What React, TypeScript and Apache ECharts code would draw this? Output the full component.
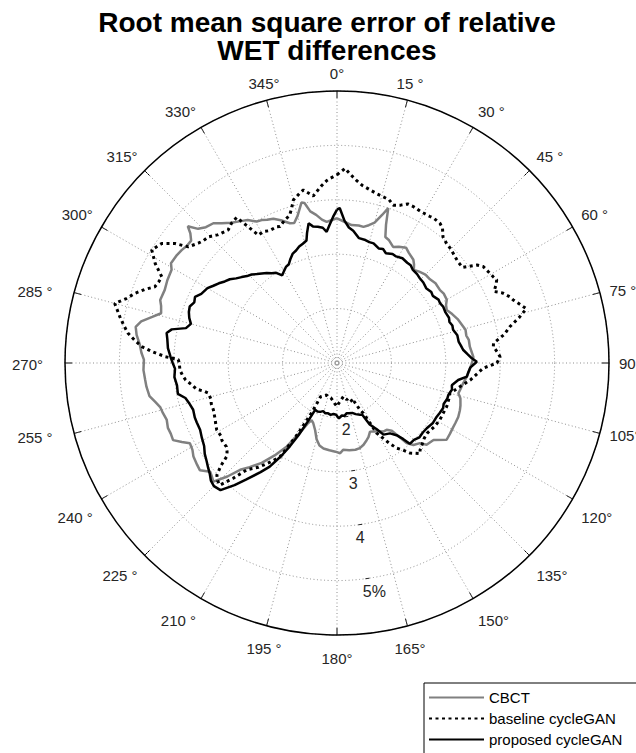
import React, { useEffect, useRef } from 'react';
import * as echarts from 'echarts';

const titleText = 'Root mean square error of relative\nWET differences';
const angleTickValues = [0, 15, 30, 45, 60, 75, 90, 105, 120, 135, 150, 165, 180, 195, 210, 225, 240, 255, 270, 285, 300, 315, 330, 345];
const angleTickLabels = ['0°', '15 °', '30 °', '45 °', '60 °', '75 °', '90°', '105°', '120°', '135°', '150°', '165°', '180°', '195 °', '210 °', '225 °', '240 °', '255 °', '270°', '285 °', '300°', '315°', '330°', '345°'];
const radiusTickValues = [2, 3, 4, 5];
const radiusTickLabels = ['2', '3', '4', '5%'];
const seriesNames = ['CBCT', 'baseline cycleGAN', 'proposed cycleGAN'];

const cbctAngles = [0, 3, 6, 9, 11, 13, 15, 17, 18.3, 19.5, 21, 23, 25.8, 28, 31, 33, 36.5, 38, 39.5, 42, 45, 48, 51, 54.7, 57, 60, 62, 64.2, 67, 70, 73, 75.5, 78, 80, 83, 85, 87.5, 90, 93, 96, 99, 102, 104, 106, 109, 111, 114, 117, 119, 122, 125, 128.6, 132.4, 134, 137, 139, 141, 143.4, 146, 150, 154.3, 157, 159, 162, 165, 168, 172, 176, 178, 181, 185, 189, 192, 195, 198, 201.5, 204, 206, 208, 211, 214, 217, 220, 222.2, 224, 226.2, 228, 229.4, 232, 234, 236.9, 239, 241.4, 243, 244.8, 247, 249, 251.5, 254, 256, 258, 260, 262.9, 265, 267.9, 271, 273, 275.3, 278, 280.2, 282, 284, 285.8, 288, 289.6, 293, 296, 299.4, 301, 304, 306, 308, 310, 311.5, 312.5, 314, 316, 318.5, 320.5, 323, 326.3, 328, 330.4, 332.2, 334, 336.2, 338.5, 341.4, 343, 345, 347.5, 348.5, 350, 352, 354, 355.8, 358, 360];
const cbctRmse = [3.66, 3.6, 3.55, 3.56, 3.55, 3.6, 3.67, 3.85, 4.0, 3.7, 3.48, 3.45, 3.37, 3.42, 3.47, 3.42, 3.36, 3.3, 3.22, 3.26, 3.3, 3.3, 3.33, 3.32, 3.34, 3.33, 3.27, 3.24, 3.3, 3.36, 3.4, 3.44, 3.43, 3.46, 3.46, 3.48, 3.51, 3.48, 3.44, 3.4, 3.35, 3.32, 3.3, 3.36, 3.4, 3.42, 3.44, 3.44, 3.44, 3.45, 3.46, 3.27, 3.23, 3.12, 3.06, 2.95, 2.6, 2.53, 2.52, 2.45, 2.4, 2.48, 2.52, 2.58, 2.62, 2.63, 2.62, 2.6, 2.66, 2.63, 2.61, 2.59, 2.55, 2.45, 2.3, 2.19, 2.15, 2.25, 2.45, 2.79, 3.05, 3.3, 3.5, 3.65, 3.9, 4.15, 4.1, 4.07, 4.2, 4.18, 4.15, 4.1, 4.08, 4.2, 4.33, 4.32, 4.33, 4.3, 4.33, 4.35, 4.42, 4.5, 4.53, 4.54, 4.56, 4.55, 4.6, 4.64, 4.72, 4.76, 4.68, 4.5, 4.36, 4.4, 4.45, 4.44, 4.47, 4.49, 4.56, 4.55, 4.53, 4.5, 4.5, 4.6, 4.72, 4.55, 4.47, 4.43, 4.33, 4.23, 4.14, 4.1, 3.99, 3.97, 3.93, 3.9, 3.82, 3.71, 3.69, 3.8, 4.02, 4.0, 3.83, 3.75, 3.65, 3.6, 3.63, 3.66];

const baselineAngles = [0, 2.4, 4, 6, 8, 10.8, 13, 15.6, 17.7, 19.6, 22, 24, 26, 29, 32.4, 34, 36.4, 38, 40, 42.5, 45, 48, 50, 52.7, 55, 56.6, 59, 61.1, 62.5, 64, 65.5, 67, 69, 70.3, 72, 74, 76, 78.1, 80.3, 82.8, 84, 86, 87.8, 90, 92, 94, 97.3, 100.9, 103, 105, 108, 111.7, 115, 119, 123, 128, 131, 134, 136.3, 137.5, 139, 141, 143, 145, 147, 150.5, 152.4, 154, 156, 158, 159.8, 162, 165, 167, 169.4, 172, 175.6, 178, 180, 183, 186, 190, 194.5, 198, 202, 206, 206.5, 207, 209, 211.3, 214, 217, 220.2, 222, 223.8, 225.5, 227, 228.5, 229.7, 231, 232.8, 236, 238, 240.9, 243, 245, 249.2, 252, 254, 256.8, 258, 259.5, 261.5, 263.6, 265.5, 267.4, 270, 271.3, 272.1, 273.5, 274.8, 276.5, 278.1, 280, 282, 285, 287, 289, 291, 292.7, 294.5, 296.2, 297.5, 298.7, 301.4, 304.3, 306.4, 308, 310.8, 312.5, 314.5, 317, 320.7, 323, 325.4, 326.9, 328.4, 330.7, 333, 336.1, 337.3, 340, 342.2, 343.5, 345, 347.7, 349, 351.9, 353.2, 355, 356.8, 358, 360];
const baselineRmse = [4.46, 4.58, 4.48, 4.38, 4.3, 4.24, 4.2, 4.17, 4.15, 4.08, 4.13, 4.2, 4.2, 4.18, 4.19, 4.2, 4.19, 4.15, 4.03, 3.98, 3.96, 3.92, 3.9, 3.9, 4.14, 4.22, 4.25, 4.28, 4.31, 4.25, 4.17, 4.3, 4.4, 4.44, 4.52, 4.62, 4.45, 4.25, 4.12, 3.9, 3.89, 3.95, 4.0, 3.94, 3.69, 3.6, 3.47, 3.3, 3.22, 3.15, 3.16, 3.17, 3.16, 3.16, 3.14, 3.1, 3.12, 3.17, 3.21, 3.26, 3.2, 3.13, 3.0, 2.91, 2.75, 2.48, 2.04, 1.95, 1.77, 1.8, 1.69, 1.68, 1.7, 1.65, 1.63, 1.66, 1.71, 1.75, 1.8, 1.75, 1.7, 1.65, 1.64, 1.62, 1.65, 1.69, 1.86, 2.03, 2.5, 3.02, 3.2, 3.4, 3.57, 3.85, 4.11, 4.08, 4.02, 3.85, 3.66, 3.6, 3.55, 3.55, 3.52, 3.53, 3.5, 3.47, 3.43, 3.43, 3.41, 3.43, 3.5, 3.63, 3.7, 3.8, 3.85, 3.89, 3.9, 3.92, 4.16, 4.4, 4.6, 4.75, 4.88, 4.98, 5.08, 5.23, 5.05, 4.93, 4.78, 4.63, 4.6, 4.59, 4.7, 4.81, 4.99, 4.9, 4.7, 4.47, 4.37, 4.33, 4.31, 4.22, 4.16, 4.22, 4.25, 3.99, 3.76, 3.77, 3.73, 3.74, 3.72, 3.8, 3.85, 3.95, 4.1, 4.2, 4.24, 4.1, 4.17, 4.27, 4.36, 4.4, 4.46];

const proposedAngles = [0, 1, 3, 5, 7, 10, 13, 15, 17, 20, 22, 24, 27, 29, 32, 35, 37, 39, 42, 44, 47, 50, 53, 55, 58, 60, 62, 65, 68, 70, 72, 74, 77, 80, 82, 84, 86, 88, 89.5, 92, 94, 96, 98, 101, 103, 106, 108, 111, 113, 116, 119, 122, 126, 129, 132, 135, 138, 139, 140.5, 143, 147, 149, 152, 154, 156, 160, 163, 166, 169, 172, 175, 178, 181, 184, 187, 190, 193, 196, 199, 202, 205, 206.5, 208, 209.5, 211, 213, 215, 218, 220, 222.5, 225, 227, 229, 231, 233, 235.5, 238, 241, 244, 247, 249, 252, 255, 257, 259, 262, 265, 268, 270, 272, 275, 278, 280, 281.5, 283, 285, 287, 289, 291, 293, 295, 297, 300, 302, 304, 306, 308, 310, 312, 314, 316, 318, 320, 322, 324, 326, 328, 330, 332, 334, 336, 338, 340, 342, 344, 346, 347, 348.5, 350, 352, 354, 355.5, 357, 358.5, 360];
const proposedRmse = [3.82, 3.85, 3.62, 3.5, 3.45, 3.33, 3.32, 3.3, 3.3, 3.24, 3.26, 3.21, 3.25, 3.24, 3.27, 3.25, 3.25, 3.21, 3.2, 3.18, 3.17, 3.14, 3.17, 3.15, 3.2, 3.19, 3.21, 3.2, 3.22, 3.2, 3.23, 3.22, 3.27, 3.27, 3.3, 3.33, 3.4, 3.48, 3.57, 3.45, 3.42, 3.4, 3.25, 3.15, 3.17, 3.13, 3.13, 3.1, 3.12, 3.1, 3.08, 3.08, 3.04, 3.03, 3.04, 3.0, 3.0, 2.85, 2.72, 2.62, 2.57, 2.42, 2.28, 2.06, 2.04, 2.0, 1.96, 1.95, 1.94, 1.98, 1.97, 2.02, 1.95, 1.94, 1.96, 1.94, 1.95, 1.92, 1.95, 1.96, 1.95, 2.2, 2.5, 2.76, 3.0, 3.27, 3.45, 3.72, 3.93, 4.17, 4.2, 4.17, 4.1, 4.05, 4.0, 3.95, 3.88, 3.84, 3.8, 3.8, 3.8, 3.78, 3.82, 3.86, 3.98, 3.97, 4.0, 3.98, 4.02, 4.06, 4.12, 4.15, 4.18, 4.1, 3.85, 3.78, 3.84, 3.88, 3.9, 3.85, 3.88, 3.8, 3.75, 3.68, 3.62, 3.55, 3.5, 3.42, 3.36, 3.3, 3.26, 3.2, 3.15, 3.1, 3.04, 3.0, 2.9, 2.95, 3.0, 3.02, 3.1, 3.17, 3.2, 3.25, 3.28, 3.32, 3.45, 3.62, 3.55, 3.53, 3.5, 3.42, 3.55, 3.69, 3.82];

const pairs = (angles: number[], values: number[]) => angles.map((a, i) => [values[i], a]);

const FONT = "'Liberation Sans', Arial, sans-serif";

// which rich style each angle label uses (label placement nudges)
const angleLabelStyleKey = (v: number) => {
  if (v >= 255 && v <= 285) return 'l';
  if (v >= 120 && v <= 240) return 'b';
  return 't';
};

export default function App() {
  const ref = useRef<HTMLDivElement>(null);
  useEffect(() => {
    if (!ref.current) return;
    const chart = echarts.init(ref.current, undefined, { renderer: 'svg' });
    const center = [337, 363];
    const radius = 272;
    const gridDots = { color: '#8f8f8f', width: 1, type: [1, 2.5] as any };
    const labelBase = { fontFamily: FONT, fontSize: 15, color: '#262626' };
    chart.setOption({
      animation: false,
      backgroundColor: '#fff',
      title: {
        text: titleText,
        left: 322,
        top: 3,
        textAlign: 'center',
        textStyle: { fontFamily: FONT, fontSize: 28, fontWeight: 'bold', color: '#000', lineHeight: 28 },
      },
      polar: [
        { center, radius },
        { center, radius },
      ],
      angleAxis: [
        {
          polarIndex: 0,
          type: 'value',
          min: 0,
          max: 360,
          interval: 15,
          startAngle: 90,
          clockwise: true,
          axisLine: { lineStyle: { color: '#000', width: 1.5 } },
          axisTick: { show: true, inside: true, length: 7, lineStyle: { color: '#000', width: 1 } },
          axisLabel: {
            margin: 10,
            ...labelBase,
            rich: {
              t: { ...labelBase },
              b: { ...labelBase, padding: [6, 0, 0, 0] },
              l: { ...labelBase, padding: [3, 12, 0, 0] },
            },
            formatter: (v: number) => {
              const i = angleTickValues.indexOf(v);
              if (i < 0) return '';
              return '{' + angleLabelStyleKey(v) + '|' + angleTickLabels[i] + '}';
            },
          },
          splitLine: { show: true, lineStyle: gridDots },
        },
        {
          polarIndex: 1,
          type: 'value',
          min: 0,
          max: 360,
          startAngle: -82.5,
          show: false,
        },
      ],
      radiusAxis: [
        {
          polarIndex: 0,
          type: 'value',
          min: 1,
          max: 6,
          interval: 1,
          axisLine: { show: false },
          axisTick: { show: false },
          axisLabel: { show: false },
          splitLine: { show: true, lineStyle: gridDots },
        },
        {
          polarIndex: 1,
          type: 'value',
          min: 1,
          max: 6,
          interval: 1,
          axisLine: { show: false },
          splitLine: { show: false },
          axisTick: { show: true, length: 4, customValues: radiusTickValues, lineStyle: { color: '#262626', width: 1 } },
          axisLabel: {
            show: true,
            customValues: radiusTickValues,
            margin: 2,
            align: 'center',
            verticalAlign: 'top',
            fontFamily: FONT,
            fontSize: 16,
            color: '#262626',
            rich: {
              n: { fontFamily: FONT, fontSize: 16, color: '#262626', padding: [5, 0, 0, 0] },
              p: { fontFamily: FONT, fontSize: 16, color: '#262626', padding: [5, 0, 0, 14] },
            },
            formatter: (v: number) => {
              const i = radiusTickValues.indexOf(v);
              if (i < 0) return '';
              const s = radiusTickLabels[i];
              return (s.indexOf('%') >= 0 ? '{p|' : '{n|') + s + '}';
            },
          },
        },
      ],
      legend: {
        orient: 'vertical',
        left: 424,
        top: 683,
        height: 140,
        data: seriesNames,
        itemWidth: 55,
        itemHeight: 14,
        itemGap: 6,
        padding: [7, 30, 20, 4],
        borderColor: '#000',
        borderWidth: 1,
        backgroundColor: '#fff',
        itemStyle: { opacity: 0 },
        textStyle: { fontFamily: FONT, fontSize: 15, color: '#000' },
      },
      series: [
        {
          name: seriesNames[0],
          type: 'line',
          coordinateSystem: 'polar',
          polarIndex: 0,
          data: pairs(cbctAngles, cbctRmse),
          symbol: 'none',
          showSymbol: false,
          lineStyle: { color: '#808080', width: 2.5 },
          itemStyle: { color: '#808080' },
        },
        {
          name: seriesNames[1],
          type: 'line',
          coordinateSystem: 'polar',
          polarIndex: 0,
          data: pairs(baselineAngles, baselineRmse),
          symbol: 'none',
          showSymbol: false,
          lineStyle: { color: '#000', width: 3, type: [3, 3.5] },
          itemStyle: { color: '#000' },
        },
        {
          name: seriesNames[2],
          type: 'line',
          coordinateSystem: 'polar',
          polarIndex: 0,
          data: pairs(proposedAngles, proposedRmse),
          symbol: 'none',
          showSymbol: false,
          lineStyle: { color: '#000', width: 2.5 },
          itemStyle: { color: '#000' },
        },
      ],
    });
    return () => chart.dispose();
  }, []);
  return <div ref={ref} style={{ position: 'absolute', left: 0, top: 0, width: 636, height: 753 }} />;
}
